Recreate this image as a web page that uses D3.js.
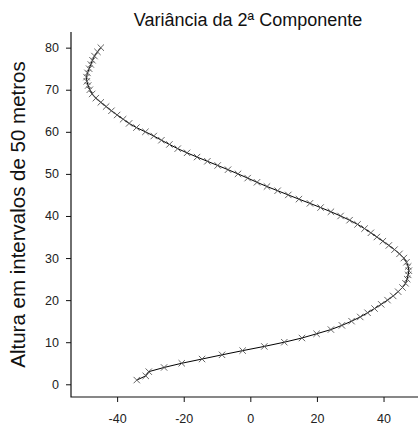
<!DOCTYPE html>
<html>
<head>
<meta charset="utf-8">
<script src="https://cdn.jsdelivr.net/npm/d3@7"></script>
<style>
  html, body { margin: 0; padding: 0; background: #fff; }
  svg { display: block; }
  text { font-family: "Liberation Sans", Arial, Helvetica, sans-serif; }
</style>
</head>
<body>
<svg id="chart" width="418" height="429"></svg>
<script>
// ---- data ----
const title = "Variância da 2ª Componente";
const yLabel = "Altura em intervalos de 50 metros";
const heights = [1,2,3,4,5,6,7,8,9,10,11,12,13,14,15,16,17,18,19,20,
  21,22,23,24,25,26,27,28,29,30,31,32,33,34,35,36,37,38,39,40,
  41,42,43,44,45,46,47,48,49,50,51,52,53,54,55,56,57,58,59,60,
  61,62,63,64,65,66,67,68,69,70,71,72,73,74,75,76,77,78,79,80];
const variance = [-34.1,-31.4,-30.5,-25.9,-20.6,-14.5,-8.5,-2.3,4.2,10.2,
  15.5,19.9,24.2,27.5,30.4,33.0,35.2,37.3,39.3,41.2,
  42.9,44.4,45.7,46.6,47.1,47.4,47.6,47.4,46.9,46.1,
  44.8,43.3,41.6,39.8,38.0,36.2,34.3,32.2,29.8,27.1,
  24.2,21.1,17.9,14.6,11.4,8.2,5.0,2.0,-0.8,-3.7,
  -6.7,-9.8,-12.9,-16.0,-19.0,-21.8,-24.3,-26.7,-29.0,-31.5,
  -34.2,-36.4,-38.2,-40.0,-41.7,-43.3,-44.9,-46.4,-47.5,-48.2,
  -48.7,-49.1,-49.2,-48.9,-48.4,-47.9,-47.4,-46.8,-45.9,-44.9];
const xTicks = [-40, -20, 0, 20, 40];
const yTicks = [0, 10, 20, 30, 40, 50, 60, 70, 80];

const data = heights.map((h, i) => ({ h, v: variance[i] }));

// ---- layout ----
const svg = d3.select("#chart");
const pLeft = 71, pRight = 418, pTop = 32, pBottom = 397;

const x = d3.scaleLinear().domain([-53.85, 50.35]).range([pLeft, pRight]);
const y = d3.scaleLinear().domain([-3.02, 83.72]).range([pBottom, pTop]);

// title
svg.append("text")
  .attr("x", 248).attr("y", 26)
  .attr("text-anchor", "middle")
  .attr("font-size", 18)
  .attr("fill", "#111")
  .text(title);

// y label
svg.append("text")
  .attr("transform", `translate(25,${(pTop + pBottom) / 2}) rotate(-90)`)
  .attr("text-anchor", "middle")
  .attr("font-size", 20.5)
  .attr("fill", "#111")
  .text(yLabel);

// axes
const gx = svg.append("g")
  .attr("transform", `translate(0,${pBottom})`)
  .call(d3.axisBottom(x).tickValues(xTicks).tickSize(5).tickPadding(12).tickFormat(d3.format("d")));
const gy = svg.append("g")
  .attr("transform", `translate(${pLeft},0)`)
  .call(d3.axisLeft(y).tickValues(yTicks).tickSize(5).tickPadding(7).tickFormat(d3.format("d")));

[gx, gy].forEach(g => {
  g.select(".domain").remove();
  g.selectAll(".tick line").attr("stroke", "#111");
  g.selectAll(".tick text")
    .attr("font-size", 12.5)
    .attr("fill", "#222")
    .style("font-family", '"Liberation Sans", Arial, sans-serif');
});
gx.selectAll(".tick text").text(d => d < 0 ? "-" + Math.abs(d) : d);

// L-shaped box
svg.append("path")
  .attr("d", `M${pLeft},${pTop}V${pBottom}H${pRight}`)
  .attr("fill", "none")
  .attr("stroke", "#111")
  .attr("stroke-width", 1.2);

// line
const line = d3.line().x(d => x(d.v)).y(d => y(d.h));
svg.append("path")
  .datum(data)
  .attr("d", line)
  .attr("fill", "none")
  .attr("stroke", "#000")
  .attr("stroke-width", 1);

// x markers
const s = 3.2;
svg.append("g")
  .selectAll("path")
  .data(data)
  .join("path")
  .attr("d", d => {
    const cx = x(d.v), cy = y(d.h);
    return `M${cx - s},${cy - s}L${cx + s},${cy + s}M${cx - s},${cy + s}L${cx + s},${cy - s}`;
  })
  .attr("fill", "none")
  .attr("stroke", "#555")
  .attr("stroke-width", 0.9);
</script>
</body>
</html>
